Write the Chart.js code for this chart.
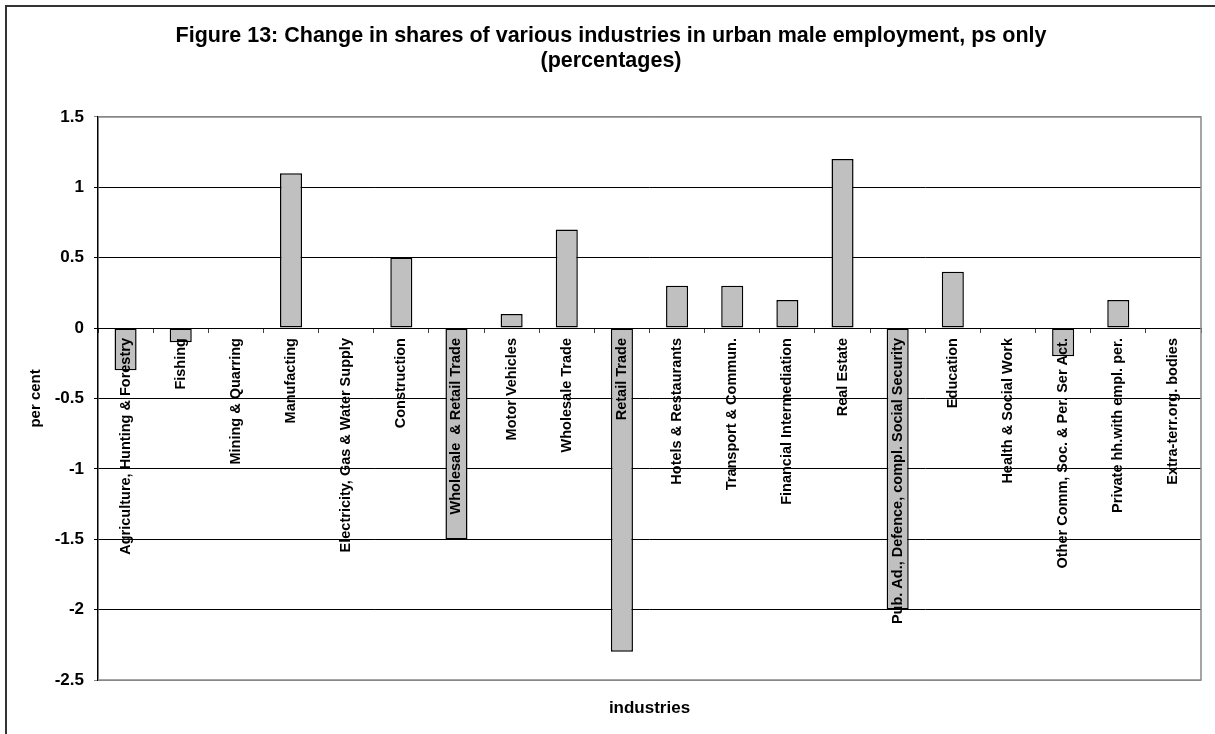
<!DOCTYPE html>
<html>
<head>
<meta charset="utf-8">
<script src="https://cdn.jsdelivr.net/npm/chart.js@4.4.1/dist/chart.umd.min.js"></script>
<style>
  html, body { margin: 0; padding: 0; background: #fff; overflow: hidden; }
  #wrap { position: relative; width: 1215px; height: 734px; }
  #frame { position: absolute; left: 5px; top: 5px; width: 1300px; height: 800px; border: 2px solid #333; }
  #myChart { position: absolute; left: 0; top: 0; }
</style>
</head>
<body>
<div id="wrap">
  <div id="frame"></div>
  <canvas id="myChart" width="1215" height="734"></canvas>
</div>
<script>
var industries = [
    'Agriculture, Hunting & Forestry',
    'Fishing',
    'Mining & Quarring',
    'Manufacting',
    'Electricity, Gas & Water Supply',
    'Construction',
    'Wholesale  & Retail Trade',
    'Motor Vehicles',
    'Wholesale Trade',
    'Retail Trade',
    'Hotels & Restaurants',
    'Transport & Commun.',
    'Financial Intermediation',
    'Real Estate',
    'Pub. Ad., Defence, compl. Social Security',
    'Education',
    'Health & Social Work',
    'Other Comm, Soc. & Per. Ser Act.',
    'Private hh.with empl. per.',
    'Extra-terr.org. bodies'
];
var shareChange = [-0.3, -0.1, 0, 1.1, 0, 0.5, -1.5, 0.1, 0.7, -2.3, 0.3, 0.3, 0.2, 1.2, -2.0, 0.4, 0, -0.2, 0.2, 0];
var yMin = -2.5;
var yMax = 1.5;
var yStep = 0.5;

var font = '"Liberation Sans", Arial, sans-serif';

// gray frame on top, right and bottom of the plot area (left side is the black axis)
var plotFrame = {
    id: 'plotFrame',
    beforeDatasetsDraw: function(chart) {
        var a = chart.chartArea;
        var ctx = chart.ctx;
        ctx.save();
        ctx.strokeStyle = '#888';
        ctx.lineWidth = 1.5;
        ctx.beginPath();
        ctx.moveTo(a.left, a.top);
        ctx.lineTo(a.right, a.top);
        ctx.lineTo(a.right, a.bottom);
        ctx.lineTo(a.left, a.bottom);
        ctx.stroke();
        ctx.restore();
    }
};

var ctx = document.getElementById('myChart').getContext('2d');
var myChart = new Chart(ctx, {
    type: 'bar',
    data: {
        labels: industries,
        datasets: [{
            label: 'change',
            data: shareChange,
            backgroundColor: '#c0c0c0',
            borderColor: '#000',
            borderWidth: 1.5,
            borderSkipped: false,
            barPercentage: 0.4,
            categoryPercentage: 1.0
        }]
    },
    options: {
        responsive: false,
        animation: false,
        layout: { padding: { left: 7, right: 0, top: 0, bottom: 0 } },
        plugins: {
            legend: { display: false },
            tooltip: { enabled: false },
            title: {
                display: true,
                text: ['Figure 13: Change in shares of various industries in urban male employment, ps only', '(percentages)'],
                color: '#000',
                font: { family: font, size: 21.5, weight: 'bold', lineHeight: 1.16 },
                padding: { top: 24, bottom: 43 }
            }
        },
        scales: {
            x: {
                position: { y: 0 },
                afterFit: function(scale) { scale.height = 0; },
                grid: { drawOnChartArea: false, drawTicks: true, tickLength: 4, tickColor: '#444' },
                border: { display: true, color: '#000', width: 1 },
                ticks: {
                    z: 1,
                    autoSkip: false,
                    maxRotation: 90,
                    minRotation: 90,
                    padding: 6,
                    color: '#000',
                    font: { family: font, size: 14.5, weight: 'bold' }
                }
            },
            xTitle: {
                type: 'category',
                position: 'bottom',
                grid: { display: false, drawTicks: false },
                border: { display: false },
                ticks: { display: false },
                title: {
                    display: true,
                    text: 'industries',
                    color: '#000',
                    font: { family: font, size: 17, weight: 'bold', lineHeight: 1.2 },
                    padding: { top: 18, bottom: 15.6 }
                }
            },
            y: {
                min: yMin,
                max: yMax,
                afterFit: function(scale) { scale.width = 91; },
                grid: {
                    color: function(c) {
                        var v = c.tick ? c.tick.value : 0;
                        return (v === yMin || v === yMax) ? '#888' : '#000';
                    },
                    lineWidth: 1,
                    drawTicks: true,
                    tickLength: 4
                },
                border: { display: true, color: '#000', width: 1.5 },
                ticks: {
                    stepSize: yStep,
                    padding: 10,
                    color: '#000',
                    font: { family: font, size: 17, weight: 'bold' },
                    callback: function(v) { return String(v); }
                },
                title: {
                    display: true,
                    text: 'per cent',
                    color: '#000',
                    font: { family: font, size: 15, weight: 'bold', lineHeight: 1.2 },
                    padding: { top: 20, bottom: 0 }
                }
            },
            yRight: {
                type: 'linear',
                position: 'right',
                afterFit: function(scale) { scale.width = 14; },
                grid: { display: false, drawTicks: false },
                border: { display: false },
                ticks: { display: false }
            }
        }
    },
    plugins: [plotFrame]
});
</script>
</body>
</html>
